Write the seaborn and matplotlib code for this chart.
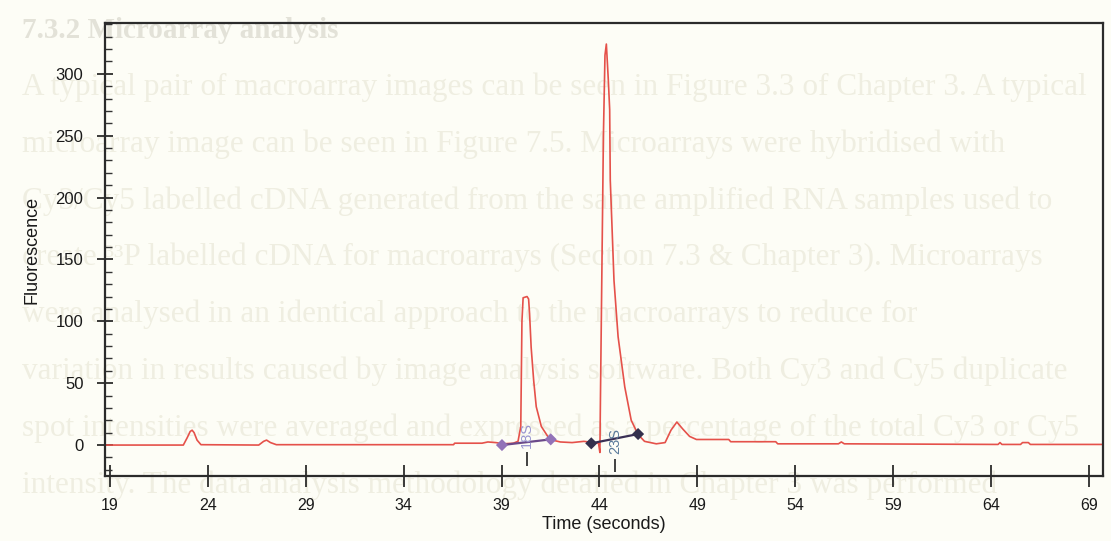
import matplotlib
matplotlib.use("Agg")
import matplotlib.pyplot as plt
import seaborn as sns
import pandas as pd
from matplotlib.ticker import MultipleLocator

# trace (time in s, fluorescence units)
time_s = [18.8, 22.75, 22.95, 23.1, 23.2, 23.3, 23.45, 23.65,
          26.6, 26.85, 27.0, 27.2, 27.5,
          36.55, 36.6, 38.0, 38.3, 38.7, 39.1, 39.6,
          39.84, 39.98, 40.04, 40.1, 40.3, 40.38, 40.43, 40.51, 40.64, 40.77, 41.03, 41.37, 41.6,
          42.0, 42.6, 43.2, 43.7, 43.95,
          44.02, 44.05, 44.2, 44.28, 44.35, 44.45, 44.52, 44.55, 44.64, 44.74, 44.95, 45.29, 45.62, 45.97,
          46.3, 46.9, 47.35, 47.65, 47.95, 48.25, 48.6, 48.95,
          50.6, 50.7, 53.0, 53.1, 56.2, 56.35, 56.5,
          64.35, 64.45, 64.55, 65.5, 65.6, 65.9, 66.0, 69.8]
fluor = [0, 0, 6, 11, 12, 10, 4, 0.3,
         0, 3, 4, 2, 0.3,
         0.3, 1.5, 1.5, 2.5, 2, 1, 1.5,
         3, 15, 100, 119, 120, 118, 106, 79, 52, 31, 15, 6.7, 4,
         2.5, 2, 3, 2, 1.5,
         -6, 40, 250, 315, 324, 295, 271, 214, 176, 133, 87.5, 47, 20, 8.5,
         3, 1, 2, 12, 18.6, 13, 7, 4.5,
         4.5, 2.7, 2.7, 1, 1, 2.5, 1,
         0.5, 2, 0.5, 0.5, 2, 2, 0.5, 0.5]

# peak baseline markers
base_time = [39.02, 41.51, 43.58, 45.97]
base_fluor = [0.0, 4.6, 1.4, 8.9]
base_group = ["18S", "18S", "23S", "23S"]

peak_names = ["18S", "23S"]
peak_time = [40.3, 44.8]
peak_label_y = [8, 3]
peak_tick_top = [-6, -11]
peak_tick_bottom = [-17, -22]

x_ticks = [19, 24, 29, 34, 39, 44, 49, 54, 59, 64, 69]
y_ticks = [0, 50, 100, 150, 200, 250, 300]

heading = "7.3.2 Microarray analysis"
page_lines = [
    "A typical pair of macroarray images can be seen in Figure 3.3 of Chapter 3. A typical",
    "microarray image can be seen in Figure 7.5. Microarrays were hybridised with",
    "Cy3/Cy5 labelled cDNA generated from the same amplified RNA samples used to",
    "create \u00b3\u00b3P labelled cDNA for macroarrays (Section 7.3 & Chapter 3). Microarrays",
    "were analysed in an identical approach to the macroarrays to reduce for",
    "variation in results caused by image analysis software. Both Cy3 and Cy5 duplicate",
    "spot intensities were averaged and expressed as a percentage of the total Cy3 or Cy5",
    "intensity. The data analysis methodology detailed in Chapter 3 was performed",
]

trace = pd.DataFrame({"time": time_s, "fluor": fluor})
bases = pd.DataFrame({"time": base_time, "fluor": base_fluor, "peak": base_group})

sns.set_style("ticks")
plt.rcParams["font.family"] = ["Liberation Sans", "DejaVu Sans"]

W, H = 1111, 541
fig = plt.figure(figsize=(W / 100, H / 100), dpi=100, facecolor="#fdfdf6")

# faint page text showing through the scan
fig.text(22 / W, 1 - 30 / H, heading, fontsize=21, weight="bold", color="#e3e2d8",
         family="Liberation Serif", va="center", zorder=0)
for i, line in enumerate(page_lines):
    fig.text(22 / W, 1 - (87 + 56.9 * i) / H, line, fontsize=22.5, color="#efeee1",
             family="Liberation Serif", va="center", zorder=0)

ax = fig.add_axes([105 / W, 1 - 476 / H, (1103 - 105) / W, (476 - 23) / H])
ax.set_zorder(1)
ax.set_facecolor("none")

sns.lineplot(data=trace, x="time", y="fluor", ax=ax, color="#e5514a", lw=1.2,
             estimator=None, sort=False)
sns.lineplot(data=bases, x="time", y="fluor", hue="peak", ax=ax, estimator=None,
             palette={"18S": "#6b4a8a", "23S": "#3a2f55"}, lw=1.6, legend=False)
sns.scatterplot(data=bases, x="time", y="fluor", hue="peak", ax=ax, marker="D", s=38,
                palette={"18S": "#9272b8", "23S": "#33304d"}, edgecolor="none",
                legend=False, zorder=5)

label_colors = ["#9a96d0", "#5b7b9b"]
for name, t, ly, c in zip(peak_names, peak_time, peak_label_y, label_colors):
    ax.text(t, ly, name, rotation=90, ha="center", va="center", fontsize=10.5, color=c, zorder=6)
ax.vlines(peak_time, peak_tick_bottom, peak_tick_top, color="#333333", lw=1.3)

ax.set_xlim(18.75, 69.71)
ax.set_ylim(-25, 341)
ax.set_xticks(x_ticks)
ax.set_yticks(y_ticks)
ax.yaxis.set_minor_locator(MultipleLocator(10))

for s in ax.spines.values():
    s.set_visible(True)
    s.set_color("#2b2b2b")
    s.set_linewidth(1.6)

ax.tick_params(axis="x", which="major", direction="inout", length=16, width=1.2,
               pad=8, labelsize=11.5, colors="#1a1a1a")
ax.tick_params(axis="y", which="major", direction="inout", length=11, width=1.2,
               pad=10, labelsize=12, colors="#1a1a1a")
ax.tick_params(axis="y", which="minor", direction="in", length=5, width=1.0, colors="#333333")

ax.set_xlabel("Time (seconds)", fontsize=13, color="#1a1a1a", labelpad=2)
ax.set_ylabel("Fluorescence", fontsize=13, color="#1a1a1a", labelpad=11)

fig.savefig("out.png", dpi=100, facecolor=fig.get_facecolor())
